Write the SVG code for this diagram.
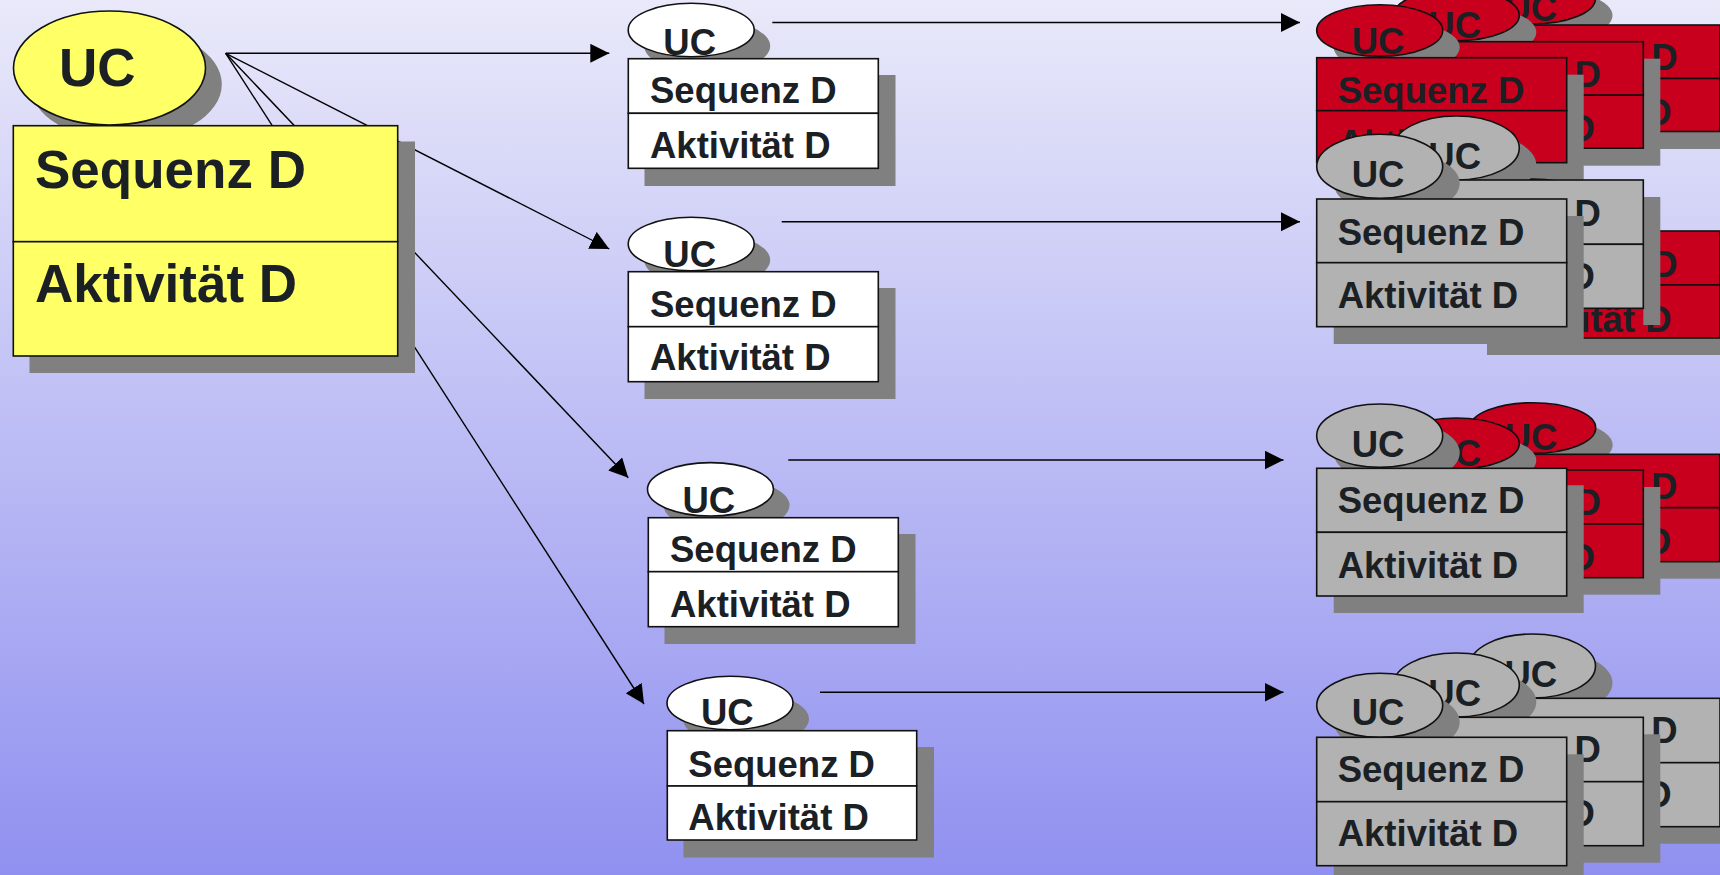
<svg xmlns="http://www.w3.org/2000/svg" width="1720" height="875" viewBox="0 0 1720 875">
<defs>
<linearGradient id="bg" x1="0" y1="0" x2="0" y2="1">
<stop offset="0" stop-color="#E9E9FA"/>
<stop offset="1" stop-color="#9090F0"/>
</linearGradient>
<marker id="arrow" markerUnits="userSpaceOnUse" markerWidth="20" markerHeight="20" refX="19" refY="9.5" orient="auto">
<path d="M0,0 L19,9.5 L0,19 Z" fill="#000"/>
</marker>
<style>
.sh{fill:#808080}
.box{stroke:#111;stroke-width:1.6}
.yellow{fill:#FFFF66}
.white{fill:#FFFFFF}
.red{fill:#C8001E}
.grey{fill:#B2B2B2}
text{font-family:"Liberation Sans",Arial,sans-serif;font-weight:bold;fill:#1A2024}
.t36{font-size:36.5px}
.t52{font-size:53px}
.con{stroke:#000;stroke-width:1.4;fill:none}
</style>
</defs>

<rect x="0" y="0" width="1720" height="875" fill="url(#bg)"/>

<!-- connectors (drawn first, they pass behind the main node) -->
<g id="connectors">
<line class="con" x1="225.7" y1="53.3" x2="609.3" y2="53.3" marker-end="url(#arrow)"/>
<line class="con" x1="225.7" y1="53.3" x2="609.3" y2="249" marker-end="url(#arrow)"/>
<line class="con" x1="225.7" y1="53.3" x2="628.3" y2="477.7" marker-end="url(#arrow)"/>
<line class="con" x1="225.7" y1="53.3" x2="644" y2="704" marker-end="url(#arrow)"/>
<line class="con" x1="772.3" y1="22.5" x2="1300" y2="22.5" marker-end="url(#arrow)"/>
<line class="con" x1="781.7" y1="221.7" x2="1300" y2="221.7" marker-end="url(#arrow)"/>
<line class="con" x1="788.3" y1="460" x2="1283.5" y2="460" marker-end="url(#arrow)"/>
<line class="con" x1="820" y1="692.3" x2="1283.5" y2="692.3" marker-end="url(#arrow)"/>
</g>

<!-- main use case -->
<g id="uc-main">
<ellipse class="sh" cx="125.8" cy="84.3" rx="96" ry="57"/>
<ellipse class="box yellow" cx="109.5" cy="68" rx="96" ry="57"/>
<rect class="sh" x="29.5" y="141.5" width="385.5" height="231.5"/>
<rect class="box yellow" x="13.3" y="125.7" width="384.4" height="116"/>
<rect class="box yellow" x="13.3" y="241.7" width="384.4" height="114.3"/>
<text class="t52" x="59" y="86">UC</text>
<text class="t52" x="35" y="188">Sequenz D</text>
<text class="t52" x="35" y="301.7">Aktivität D</text>
</g>

<!-- second column -->
<g id="uc-1">
<ellipse class="sh" cx="707.2" cy="46" rx="63" ry="26.7"/>
<ellipse class="box white" cx="691.2" cy="30" rx="63" ry="26.7"/>
<rect class="sh" x="644.5" y="75" width="251" height="111"/>
<rect class="box white" x="628.3" y="58.7" width="250" height="54.6"/>
<rect class="box white" x="628.3" y="113.3" width="250" height="55"/>
<text class="t36" x="663.3" y="55">UC</text>
<text class="t36" x="650" y="103.3">Sequenz D</text>
<text class="t36" x="650" y="158.3">Aktivität D</text>
</g>

<g id="uc-2">
<ellipse class="sh" cx="707.2" cy="260" rx="63" ry="26.7"/>
<ellipse class="box white" cx="691.2" cy="244" rx="63" ry="26.7"/>
<rect class="sh" x="644.5" y="288" width="251" height="111"/>
<rect class="box white" x="628.3" y="271.7" width="250" height="55"/>
<rect class="box white" x="628.3" y="326.7" width="250" height="55"/>
<text class="t36" x="663.3" y="266.7">UC</text>
<text class="t36" x="650" y="317">Sequenz D</text>
<text class="t36" x="650" y="370">Aktivität D</text>
</g>

<g id="uc-3">
<ellipse class="sh" cx="726.5" cy="505.3" rx="63" ry="26.7"/>
<ellipse class="box white" cx="710.5" cy="489.3" rx="63" ry="26.7"/>
<rect class="sh" x="664.5" y="534" width="251" height="110"/>
<rect class="box white" x="648.3" y="517.7" width="250" height="54"/>
<rect class="box white" x="648.3" y="571.7" width="250" height="55"/>
<text class="t36" x="682.5" y="513.3">UC</text>
<text class="t36" x="670" y="561.7">Sequenz D</text>
<text class="t36" x="670" y="616.7">Aktivität D</text>
</g>

<g id="uc-4">
<ellipse class="sh" cx="746" cy="719" rx="63" ry="26.7"/>
<ellipse class="box white" cx="730" cy="703" rx="63" ry="26.7"/>
<rect class="sh" x="683.5" y="747" width="250.5" height="110.5"/>
<rect class="box white" x="667.3" y="730.7" width="249.4" height="55.3"/>
<rect class="box white" x="667.3" y="786" width="249.4" height="54"/>
<text class="t36" x="701" y="725">UC</text>
<text class="t36" x="688.3" y="776.7">Sequenz D</text>
<text class="t36" x="688.3" y="830">Aktivität D</text>
</g>

<!-- third column, stack 1 -->
<g id="stack-1-c">
<ellipse class="sh" cx="1549.5" cy="15.5" rx="63" ry="25.5"/>
<ellipse class="box red" cx="1532.5" cy="-1.5" rx="63" ry="25.5"/>
<rect class="sh" x="1487" y="42" width="250" height="107"/>
<rect class="box red" x="1470" y="25" width="250" height="53.5"/>
<rect class="box red" x="1470" y="78.5" width="250" height="53"/>
<text class="t36" x="1504.5" y="21">UC</text>
<text class="t36" x="1491" y="70">Sequenz D</text>
<text class="t36" x="1491" y="124.5">Aktivität D</text>
</g>
<g id="stack-1-b">
<ellipse class="sh" cx="1473.3" cy="32.2" rx="63" ry="25.5"/>
<ellipse class="box red" cx="1456.3" cy="15.2" rx="63" ry="25.5"/>
<rect class="sh" x="1410.3" y="58.7" width="250" height="107"/>
<rect class="box red" x="1393.3" y="41.7" width="250" height="53.5"/>
<rect class="box red" x="1393.3" y="95.2" width="250" height="53"/>
<text class="t36" x="1428.3" y="37.7">UC</text>
<text class="t36" x="1414.3" y="86.7">Sequenz D</text>
<text class="t36" x="1414.3" y="141.2">Aktivität D</text>
</g>
<g id="stack-1-a">
<ellipse class="sh" cx="1396.7" cy="47.3" rx="63" ry="25.5"/>
<ellipse class="box red" cx="1379.7" cy="30.5" rx="63" ry="25.8"/>
<rect class="sh" x="1333.7" y="74.7" width="250" height="105"/>
<rect class="box red" x="1316.7" y="57.7" width="250" height="53"/>
<rect class="box red" x="1316.7" y="110.7" width="250" height="52"/>
<text class="t36" x="1351.7" y="53.7">UC</text>
<text class="t36" x="1337.7" y="102.5">Sequenz D</text>
<text class="t36" x="1337.7" y="155.7">Aktivität D</text>
</g>

<!-- third column, stack 2 -->
<g id="stack-2-c">
<ellipse class="sh" cx="1549.5" cy="221.5" rx="63" ry="25.5"/>
<ellipse class="box red" cx="1532.5" cy="204.5" rx="63" ry="25.5"/>
<rect class="sh" x="1487" y="248" width="250" height="107"/>
<rect class="box red" x="1470" y="231" width="250" height="54"/>
<rect class="box red" x="1470" y="285" width="250" height="53"/>
<text class="t36" x="1504.5" y="227">UC</text>
<text class="t36" x="1491" y="277">Sequenz D</text>
<text class="t36" x="1491" y="331.5">Aktivität D</text>
</g>
<g id="stack-2-b">
<rect class="sh" x="1643.3" y="197" width="17" height="128"/>
<ellipse class="sh" cx="1473.3" cy="165" rx="63" ry="32"/>
<ellipse class="box grey" cx="1456.3" cy="148" rx="63" ry="32"/>
<rect class="box grey" x="1393.3" y="180" width="250" height="64.3"/>
<rect class="box grey" x="1393.3" y="244.3" width="250" height="64"/>
<text class="t36" x="1428.3" y="168.5">UC</text>
<text class="t36" x="1414.3" y="225.5">Sequenz D</text>
<text class="t36" x="1414.3" y="289">Aktivität D</text>
</g>
<g id="stack-2-a">
<ellipse class="sh" cx="1396.7" cy="183.3" rx="63" ry="32"/>
<ellipse class="box grey" cx="1379.7" cy="166.3" rx="63" ry="32"/>
<rect class="sh" x="1333.7" y="216" width="250" height="128"/>
<rect class="box grey" x="1316.7" y="199" width="250" height="63.7"/>
<rect class="box grey" x="1316.7" y="262.7" width="250" height="64"/>
<text class="t36" x="1351.7" y="186.7">UC</text>
<text class="t36" x="1337.7" y="245">Sequenz D</text>
<text class="t36" x="1337.7" y="308.3">Aktivität D</text>
</g>

<!-- third column, stack 3 -->
<g id="stack-3-c">
<ellipse class="sh" cx="1549.7" cy="445" rx="63" ry="25.3"/>
<ellipse class="box red" cx="1532.7" cy="428" rx="63" ry="25.3"/>
<rect class="sh" x="1486.7" y="471.3" width="250" height="107.4"/>
<rect class="box red" x="1469.7" y="454.3" width="250" height="53.4"/>
<rect class="box red" x="1469.7" y="507.7" width="250" height="54"/>
<text class="t36" x="1504.7" y="450.3">UC</text>
<text class="t36" x="1490.7" y="499.3">Sequenz D</text>
<text class="t36" x="1490.7" y="553.8">Aktivität D</text>
</g>
<g id="stack-3-b">
<ellipse class="sh" cx="1473.3" cy="460.5" rx="63" ry="25.5"/>
<ellipse class="box red" cx="1456.3" cy="443.5" rx="63" ry="25.5"/>
<rect class="sh" x="1410.3" y="487" width="250" height="107.7"/>
<rect class="box red" x="1393.3" y="470" width="250" height="54"/>
<rect class="box red" x="1393.3" y="524" width="250" height="53.7"/>
<text class="t36" x="1428.3" y="466">UC</text>
<text class="t36" x="1414.3" y="515">Sequenz D</text>
<text class="t36" x="1414.3" y="569.5">Aktivität D</text>
</g>
<g id="stack-3-a">
<ellipse class="sh" cx="1396.7" cy="452.7" rx="63" ry="31.7"/>
<ellipse class="box grey" cx="1379.7" cy="435.7" rx="63" ry="31.7"/>
<rect class="sh" x="1333.7" y="485.3" width="250" height="127.7"/>
<rect class="box grey" x="1316.7" y="468.3" width="250" height="64"/>
<rect class="box grey" x="1316.7" y="532.3" width="250" height="63.7"/>
<text class="t36" x="1351.7" y="456.7">UC</text>
<text class="t36" x="1337.7" y="513.3">Sequenz D</text>
<text class="t36" x="1337.7" y="578">Aktivität D</text>
</g>

<!-- third column, stack 4 -->
<g id="stack-4-c">
<ellipse class="sh" cx="1549.5" cy="683" rx="63" ry="32"/>
<ellipse class="box grey" cx="1532.5" cy="666" rx="63" ry="32"/>
<rect class="sh" x="1487" y="715.3" width="250" height="128.4"/>
<rect class="box grey" x="1470" y="698.3" width="250" height="64.4"/>
<rect class="box grey" x="1470" y="762.7" width="250" height="64"/>
<text class="t36" x="1504.5" y="686.5">UC</text>
<text class="t36" x="1491" y="743.3">Sequenz D</text>
<text class="t36" x="1491" y="807.3">Aktivität D</text>
</g>
<g id="stack-4-b">
<ellipse class="sh" cx="1473.3" cy="702" rx="63" ry="32"/>
<ellipse class="box grey" cx="1456.3" cy="685" rx="63" ry="32"/>
<rect class="sh" x="1410.3" y="734.3" width="250" height="128.4"/>
<rect class="box grey" x="1393.3" y="717.3" width="250" height="64.4"/>
<rect class="box grey" x="1393.3" y="781.7" width="250" height="64"/>
<text class="t36" x="1428.3" y="705.5">UC</text>
<text class="t36" x="1414.3" y="762.3">Sequenz D</text>
<text class="t36" x="1414.3" y="826.3">Aktivität D</text>
</g>
<g id="stack-4-a">
<ellipse class="sh" cx="1396.7" cy="722" rx="63" ry="32"/>
<ellipse class="box grey" cx="1379.7" cy="705.3" rx="63" ry="32"/>
<rect class="sh" x="1333.7" y="754.3" width="250" height="128.4"/>
<rect class="box grey" x="1316.7" y="737.3" width="250" height="64.4"/>
<rect class="box grey" x="1316.7" y="801.7" width="250" height="64"/>
<text class="t36" x="1351.7" y="725">UC</text>
<text class="t36" x="1337.7" y="781.7">Sequenz D</text>
<text class="t36" x="1337.7" y="846">Aktivität D</text>
</g>
</svg>
